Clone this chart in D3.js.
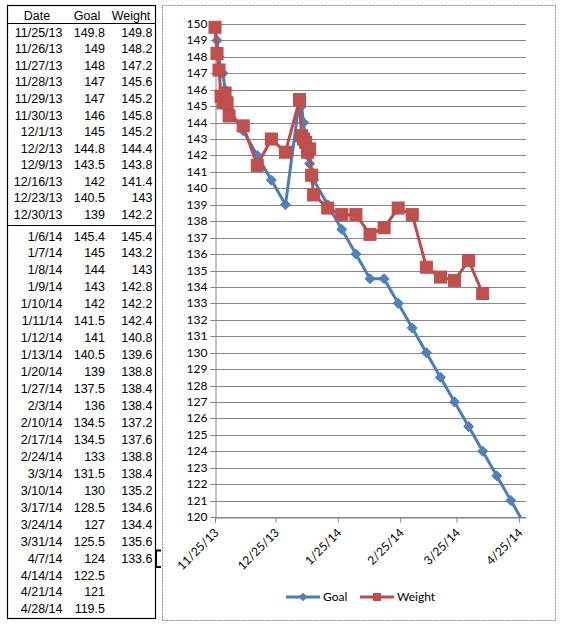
<!DOCTYPE html>
<html>
<head>
<meta charset="utf-8">
<script src="https://cdn.jsdelivr.net/npm/d3@7"></script>
<style>
  body { margin: 0; background: #fff; }
  .tbl text { font-family: "Liberation Sans", Arial, sans-serif; font-size: 12.5px; fill: #000; }
  .chart text { font-family: Lato, "Open Sans", sans-serif; font-size: 12px; fill: #000; }
</style>
</head>
<body>
<svg id="page" width="564" height="630"></svg>
<script>
// table / chart data
const dates = ["11/25/13","11/26/13","11/27/13","11/28/13","11/29/13","11/30/13","12/1/13","12/2/13",
  "12/9/13","12/16/13","12/23/13","12/30/13",
  "1/6/14","1/7/14","1/8/14","1/9/14","1/10/14","1/11/14","1/12/14","1/13/14","1/20/14","1/27/14",
  "2/3/14","2/10/14","2/17/14","2/24/14","3/3/14","3/10/14","3/17/14","3/24/14","3/31/14","4/7/14",
  "4/14/14","4/21/14","4/28/14"];
const goal = [149.8,149,148,147,147,146,145,144.8,143.5,142,140.5,139,
  145.4,145,144,143,142,141.5,141,140.5,139,137.5,136,134.5,134.5,133,131.5,130,128.5,127,125.5,124,
  122.5,121,119.5];
const weight = [149.8,148.2,147.2,145.6,145.2,145.8,145.2,144.4,143.8,141.4,143,142.2,
  145.4,143.2,143,142.8,142.2,142.4,140.8,139.6,138.8,138.4,138.4,137.2,137.6,138.8,138.4,135.2,134.6,134.4,135.6,133.6,
  null,null,null];
const headers = ["Date", "Goal", "Weight"];
const xTickLabels = ["11/25/13","12/25/13","1/25/14","2/25/14","3/25/14","4/25/14"];
const seriesNames = ["Goal", "Weight"];

const parse = d3.timeParse("%m/%d/%y");
const svg = d3.select("#page");

// ---- spreadsheet table on the left ----
const tbl = svg.append("g").attr("class", "tbl");
const blockSplit = 12; // rows before the separator line
const rowY = i => i < blockSplit ? 32.3 + i * 16.55 : 236 + (i - blockSplit) * 16.95;
const colX = [62.5, 105, 152.5];

tbl.append("rect")
  .attr("x", 7.5).attr("y", 5.5).attr("width", 148).attr("height", 613)
  .attr("fill", "none").attr("stroke", "#000").attr("stroke-width", 1.2);
tbl.append("line").attr("x1", 7.5).attr("x2", 155.5).attr("y1", 23.5).attr("y2", 23.5)
  .attr("stroke", "#000");
tbl.append("line").attr("x1", 7.5).attr("x2", 155.5).attr("y1", 225.5).attr("y2", 225.5)
  .attr("stroke", "#000");

tbl.selectAll(".hdr")
  .data(headers)
  .enter().append("text")
  .attr("class", "hdr")
  .attr("x", (d, i) => [37, 87, 131][i])
  .attr("y", 15).attr("dy", "0.36em")
  .attr("text-anchor", "middle")
  .text(d => d);

const rows = dates.map((d, i) => [d, goal[i], weight[i]]);
const rowG = tbl.selectAll(".row")
  .data(rows)
  .enter().append("g")
  .attr("class", "row")
  .attr("transform", (d, i) => `translate(0,${rowY(i)})`);
rowG.selectAll("text")
  .data(d => d)
  .enter().append("text")
  .attr("x", (d, i) => colX[i])
  .attr("dy", "0.36em")
  .attr("text-anchor", "end")
  .text(d => d == null ? "" : d);

// selected-cell marker next to the last weight
tbl.append("path")
  .attr("d", "M161,550.5 H156 V567 H161")
  .attr("fill", "none").attr("stroke", "#000").attr("stroke-width", 2);

// ---- chart ----
const chart = svg.append("g").attr("class", "chart");
chart.append("rect")
  .attr("x", 162.5).attr("y", 5.5).attr("width", 393).attr("height", 615)
  .attr("fill", "#fff").attr("stroke", "#8a8a8a").attr("stroke-dasharray", "2,1");

const plot = { left: 215, right: 526, top: 24, bottom: 517 };

const x = d3.scaleTime()
  .domain([parse(dates[0]), d3.timeHour.offset(parse(dates[dates.length - 1]), 12)])
  .range([plot.left, plot.right]);
const y = d3.scaleLinear()
  .domain([120, 150])
  .range([plot.bottom, plot.top]);

// gridlines
chart.append("g")
  .selectAll("line")
  .data(y.ticks(30))
  .enter().append("line")
  .attr("x1", plot.left).attr("x2", plot.right)
  .attr("y1", d => Math.round(y(d)) + 0.5).attr("y2", d => Math.round(y(d)) + 0.5)
  .attr("stroke", "#878787");

const yAxis = chart.append("g")
  .attr("transform", `translate(${plot.left + 0.5},0)`)
  .call(d3.axisLeft(y).ticks(30).tickSize(5).tickSizeOuter(0).tickPadding(3).tickFormat(d3.format("d")));
yAxis.select(".domain").attr("stroke", "#878787");
yAxis.selectAll(".tick line").attr("stroke", "#878787");
yAxis.selectAll(".tick").attr("transform", d => `translate(0,${Math.round(y(d)) + 0.5})`);
yAxis.selectAll("text").style("font-family", "Lato, sans-serif").style("font-size", "12px").attr("fill", "#000");

const xTicks = xTickLabels.map(parse);
const xAxis = chart.append("g")
  .attr("transform", `translate(0,${plot.bottom + 0.5})`)
  .call(d3.axisBottom(x).tickValues(xTicks).tickSize(5).tickSizeOuter(0).tickFormat((d, i) => xTickLabels[i]));
xAxis.select(".domain").attr("stroke", "#878787");
xAxis.selectAll(".tick line").attr("stroke", "#878787");
xAxis.selectAll("text")
  .style("font-family", "Lato, sans-serif").style("font-size", "12px").attr("fill", "#000")
  .attr("text-anchor", "end")
  .attr("transform", "translate(1,13) rotate(-45)")
  .attr("x", 0).attr("y", 0).attr("dy", "0.35em");

// clip for the lines
chart.append("clipPath").attr("id", "plotClip")
  .append("rect").attr("x", plot.left - 10).attr("y", 0)
  .attr("width", plot.right - plot.left + 10).attr("height", plot.bottom);

const goalPts = dates.map((d, i) => ({ date: parse(d), v: goal[i] }));
const weightPts = dates.map((d, i) => ({ date: parse(d), v: weight[i] })).filter(p => p.v != null);

const line = d3.line().x(p => x(p.date)).y(p => y(p.v));

const goalColor = "#4a7ebb", goalFill = "#4f81bd";
const weightColor = "#be4b48", weightFill = "#c0504d";
const diamond = d3.symbol().type(d3.symbolDiamond2).size(64);

chart.append("path")
  .datum(goalPts)
  .attr("clip-path", "url(#plotClip)")
  .attr("d", line)
  .attr("fill", "none").attr("stroke", goalColor).attr("stroke-width", 3)
  .attr("stroke-linejoin", "round");
chart.append("g").selectAll("path")
  .data(goalPts.filter(p => p.v >= 120))
  .enter().append("path")
  .attr("transform", p => `translate(${x(p.date)},${y(p.v)})`)
  .attr("d", diamond)
  .attr("fill", goalFill).attr("stroke", goalColor).attr("stroke-width", 1);

chart.append("path")
  .datum(weightPts)
  .attr("d", line)
  .attr("fill", "none").attr("stroke", weightColor).attr("stroke-width", 3)
  .attr("stroke-linejoin", "round");
const sq = 12;
chart.append("g").selectAll("rect")
  .data(weightPts)
  .enter().append("rect")
  .attr("x", p => x(p.date) - sq / 2).attr("y", p => y(p.v) - sq / 2)
  .attr("width", sq).attr("height", sq)
  .attr("fill", weightFill).attr("stroke", weightColor).attr("stroke-width", 1);

// legend
const legendY = 597;
const legend = chart.append("g").selectAll("g")
  .data(seriesNames)
  .enter().append("g")
  .attr("transform", (d, i) => `translate(${[286, 360][i]},${legendY})`);
legend.append("line")
  .attr("x1", 0).attr("x2", 34)
  .attr("stroke", (d, i) => i === 0 ? goalColor : weightColor).attr("stroke-width", 3);
legend.each(function(d, i) {
  const g = d3.select(this);
  if (i === 0) {
    g.append("path").attr("transform", "translate(17,0)").attr("d", d3.symbol().type(d3.symbolDiamond2).size(36))
      .attr("fill", goalFill).attr("stroke", goalColor);
  } else {
    g.append("rect").attr("x", 13.5).attr("y", -3.5).attr("width", 7).attr("height", 7)
      .attr("fill", weightFill).attr("stroke", weightColor);
  }
});
legend.append("text")
  .attr("x", 37).attr("dy", "0.36em")
  .text(d => d);
</script>
</body>
</html>
